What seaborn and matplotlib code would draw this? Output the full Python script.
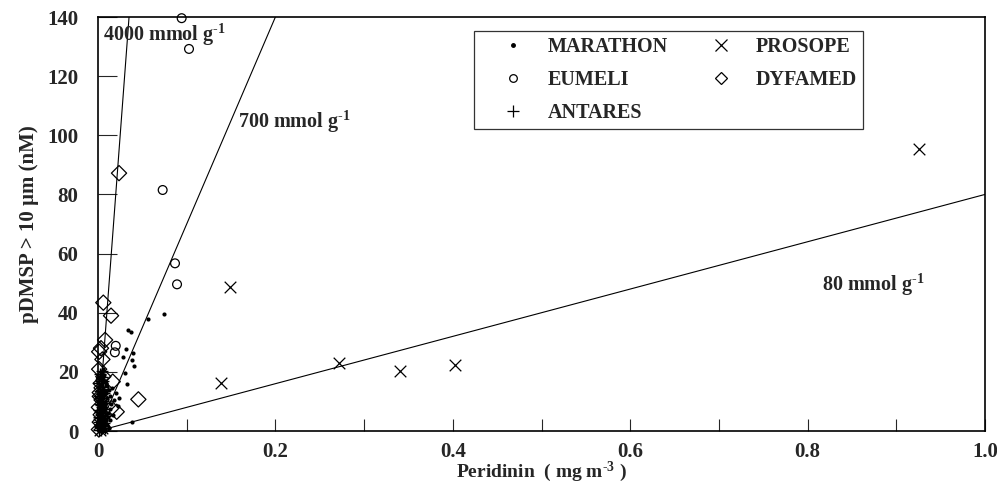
import matplotlib
matplotlib.use("Agg")
import matplotlib.pyplot as plt
import numpy as np
import seaborn as sns
from matplotlib.lines import Line2D

# Data (Peridinin mg m-3, pDMSP > 10 um nM)
marathon_x = [0.0748, 0.0567, 0.0335, 0.0369, 0.0316, 0.039, 0.0285, 0.0387, 0.041,
              0.0304, 0.033, 0.024, 0.0387, 0.002, 0.004, 0.006, 0.003, 0.008, 0.005,
              0.010, 0.007, 0.012, 0.004, 0.009, 0.011, 0.013, 0.001, 0.002, 0.006,
              0.015, 0.014, 0.016, 0.018, 0.020, 0.017, 0.022, 0.003, 0.005, 0.007,
              0.009, 0.004, 0.006, 0.008, 0.010, 0.002, 0.011, 0.012, 0.005, 0.003,
              0.007, 0.009, 0.006, 0.004, 0.013]
marathon_y = [39.5, 37.8, 34.1, 33.6, 27.6, 26.5, 24.9, 24.0, 22.0,
              19.5, 15.8, 11.0, 3.1, 1.5, 3.2, 5.0, 6.8, 8.1, 9.6,
              11.2, 12.5, 13.8, 2.4, 4.1, 6.0, 7.4, 0.8, 10.3, 14.2,
              9.0, 12.0, 14.6, 10.5, 12.8, 5.5, 8.6, 16.0, 17.5, 18.8,
              15.4, 19.6, 21.0, 16.8, 2.0, 12.0, 4.8, 1.0, 0.6, 4.4,
              9.9, 13.1, 7.2, 11.8, 3.6]

eumeli_x = [0.0943, 0.1026, 0.0729, 0.0868, 0.0891, 0.020, 0.019, 0.003, 0.006, 0.004,
            0.008, 0.002, 0.005, 0.007, 0.003]
eumeli_y = [139.6, 129.2, 81.5, 56.7, 49.6, 28.8, 26.6, 2.0, 4.5, 7.0, 1.0, 11.5,
            9.3, 14.8, 17.2]

antares_x = [0.001, 0.002, 0.003, 0.001, 0.004, 0.002, 0.003, 0.005, 0.001, 0.004,
             0.002, 0.006, 0.003, 0.005, 0.007, 0.008, 0.006, 0.009, 0.002, 0.004,
             0.001, 0.003, 0.005, 0.002, 0.004, 0.006, 0.001, 0.003, 0.007, 0.002,
             0.005, 0.004, 0.008, 0.003, 0.001, 0.006]
antares_y = [0.5, 1.2, 2.0, 3.0, 3.8, 4.5, 5.5, 6.2, 7.0, 8.0,
             9.1, 10.0, 11.3, 12.4, 2.8, 5.0, 7.6, 9.4, 13.5, 15.0,
             16.2, 17.0, 18.1, 19.3, 20.4, 14.2, 11.9, 8.7, 12.9, 6.5,
             3.4, 1.7, 1.1, 0.3, 4.9, 16.9]

prosope_x = [0.926, 0.149, 0.139, 0.272, 0.340, 0.402, 0.002, 0.004, 0.001, 0.003]
prosope_y = [95.3, 48.6, 16.1, 23.1, 20.4, 22.2, 0.3, 1.0, 2.2, 4.0]

dyfamed_x = [0.0237, 0.006, 0.0147, 0.008, 0.0034, 0.0013, 0.005, 0.0013, 0.006, 0.003,
             0.0166, 0.0455, 0.0211, 0.015, 0.002, 0.004, 0.001, 0.003, 0.002, 0.005,
             0.001, 0.004, 0.002]
dyfamed_y = [87.2, 43.4, 39.0, 30.8, 28.0, 26.8, 24.2, 20.9, 18.4, 16.1,
             16.7, 10.7, 6.5, 7.7, 13.0, 10.5, 8.0, 5.5, 3.0, 1.5,
             0.5, 14.6, 11.7]

# ratio lines (mmol g-1)
ratio_slopes = [4000, 700, 80]
ratio_labels = ["4000 mmol g$^{\u20101}$", "700 mmol g$^{\u20101}$", "80 mmol g$^{\u20101}$"]

x_ticks = [0, 0.2, 0.4, 0.6, 0.8, 1.0]
x_ticklabels = ["0", "0.2", "0.4", "0.6", "0.8", "1.0"]
y_ticks = [0, 20, 40, 60, 80, 100, 120, 140]

sns.set_theme(style="ticks")
plt.rcParams["font.family"] = ["Liberation Serif", "DejaVu Serif"]
plt.rcParams["font.weight"] = "bold"
plt.rcParams["mathtext.default"] = "regular"

fig = plt.figure(figsize=(9.97, 4.86), dpi=100)
ax = fig.add_axes([98 / 997, 55 / 486, 887 / 997, 414 / 486])

# ratio lines
line_x = np.array([0.0, 1.0])
for slope in ratio_slopes:
    sns.lineplot(x=line_x, y=slope * line_x, color="black", linewidth=0.8, ax=ax, zorder=2)

sns.scatterplot(x=marathon_x, y=marathon_y, marker="o", s=9, color="black",
                edgecolor="black", linewidth=0, ax=ax, clip_on=False, zorder=3)
sns.scatterplot(x=eumeli_x, y=eumeli_y, marker="o", s=40, color="black",
                facecolor="none", edgecolor="black", linewidth=0.9, ax=ax,
                clip_on=False, zorder=3)
sns.scatterplot(x=antares_x, y=antares_y, marker="+", s=70, color="black",
                linewidth=1.0, ax=ax, clip_on=False, zorder=3)
sns.scatterplot(x=prosope_x, y=prosope_y, marker="x", s=70, color="black",
                linewidth=0.9, ax=ax, clip_on=False, zorder=3)
sns.scatterplot(x=dyfamed_x, y=dyfamed_y, marker="D", s=60, color="black",
                facecolor="none", edgecolor="black", linewidth=0.9, ax=ax,
                clip_on=False, zorder=3)

ax.set_xlim(0, 1.0)
ax.set_ylim(0, 140)
ax.set_xticks(x_ticks)
ax.set_xticklabels(x_ticklabels)
ax.set_xticks(np.arange(0.1, 1.0, 0.2), minor=True)
ax.set_yticks(y_ticks)
ax.tick_params(axis="x", which="both", direction="in", length=9, width=0.8,
               pad=8, labelsize=15, top=False)
ax.tick_params(axis="y", direction="in", length=14, width=0.8, pad=14,
               labelsize=15, right=False)
for sp in ax.spines.values():
    sp.set_visible(True)
    sp.set_color("black")
    sp.set_linewidth(1.2)

ax.set_xlabel("Peridinin  ( mg m$^{\u20103}$ )", fontsize=14, fontweight="bold", labelpad=-2)
ax.set_ylabel("pDMSP > 10 µm (nM)", fontsize=15, fontweight="bold", labelpad=6)

# line labels
ax.text(0.006, 134, ratio_labels[0], fontsize=14.5, fontweight="bold", va="center")
ax.text(0.158, 104.5, ratio_labels[1], fontsize=14.5, fontweight="bold", va="center")
ax.text(0.816, 49.4, ratio_labels[2], fontsize=14.5, fontweight="bold", va="center")

handles = [
    Line2D([], [], ls="none", marker="o", ms=2.5, color="black"),
    Line2D([], [], ls="none", marker="o", ms=5.5, mfc="none", mec="black", mew=0.9),
    Line2D([], [], ls="none", marker="+", ms=9, color="black", mew=0.9),
    Line2D([], [], ls="none", marker="x", ms=8.5, color="black", mew=0.9),
    Line2D([], [], ls="none", marker="D", ms=6.5, mfc="none", mec="black", mew=0.9),
]
names = ["MARATHON", "EUMELI", "ANTARES", "PROSOPE", "DYFAMED"]
leg = ax.legend(handles, names, ncol=2, loc="upper left",
                bbox_to_anchor=(0.424, 0.966), frameon=True, fancybox=False,
                edgecolor="black", fontsize=14.5, handlelength=3.3,
                handletextpad=0.05, columnspacing=1.0, borderpad=0.3,
                labelspacing=0.65, borderaxespad=0)
leg.get_frame().set_linewidth(0.9)
for t in leg.get_texts():
    t.set_fontweight("bold")

fig.savefig("out.png", dpi=100)
